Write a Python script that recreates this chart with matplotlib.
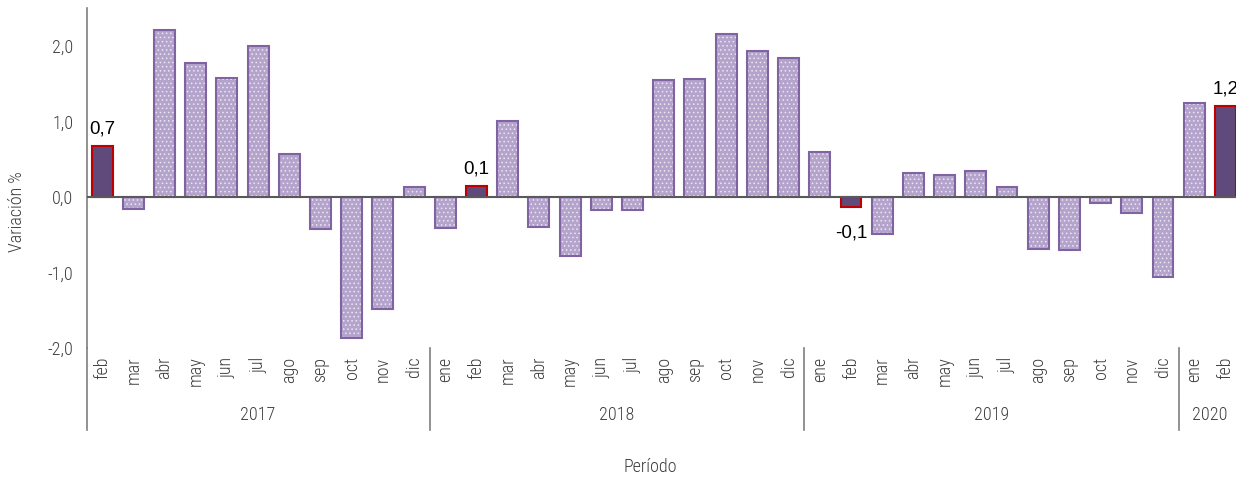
import matplotlib
matplotlib.use('Agg')
import matplotlib.pyplot as plt
import numpy as np

# monthly variation (%) feb 2017 - feb 2020
months = ['feb', 'mar', 'abr', 'may', 'jun', 'jul', 'ago', 'sep', 'oct', 'nov', 'dic',
          'ene', 'feb', 'mar', 'abr', 'may', 'jun', 'jul', 'ago', 'sep', 'oct', 'nov', 'dic',
          'ene', 'feb', 'mar', 'abr', 'may', 'jun', 'jul', 'ago', 'sep', 'oct', 'nov', 'dic',
          'ene', 'feb']
values = [0.68, -0.16, 2.21, 1.77, 1.58, 2.00, 0.57, -0.42, -1.87, -1.48, 0.13,
          -0.41, 0.14, 1.00, -0.40, -0.78, -0.17, -0.17, 1.55, 1.56, 2.16, 1.93, 1.84,
          0.60, -0.14, -0.49, 0.32, 0.29, 0.34, 0.13, -0.69, -0.70, -0.08, -0.21, -1.06,
          1.24, 1.20]
years = ['2017', '2018', '2019', '2020']
year_counts = [11, 12, 12, 2]
highlight = [0, 12, 24, 36]
highlight_labels = ['0,7', '0,1', '-0,1', '1,2']

FONT = ['Roboto Condensed', 'Liberation Sans Narrow', 'Liberation Sans', 'DejaVu Sans']
GREY = '#3f3f3f'
W = 'light'

plt.rcParams['hatch.linewidth'] = 0.6

fig = plt.figure(figsize=(12.36, 4.79), dpi=100)
ax = fig.add_axes([86.5 / 1236, 1 - 348 / 479, (1241 - 86.5) / 1236, 340 / 479])

x = np.arange(len(values))
fill = ['#604a7b' if i in highlight else '#b4a4cc' for i in x]
edge = ['#c00000' if i in highlight else '#8064a2' for i in x]

ax.bar(x, values, width=0.67, color=fill, linewidth=0, zorder=2)
light = [i for i in x if i not in highlight]
ax.bar(light, [values[i] for i in light], width=0.67, facecolor='none',
       edgecolor='#ece6f4', hatch='....', linewidth=0, zorder=3)
ax.bar(x, values, width=0.67, fill=False, edgecolor=edge, linewidth=1.5, zorder=4)

ax.axhline(0, color='#595959', linewidth=1.5, zorder=5)

ax.set_xlim(-0.5, 36.5)
ax.set_ylim(-2.0, 2.5)
ax.set_yticks([-2, -1, 0, 1, 2])
ax.set_yticklabels([f'{v:.1f}'.replace('.', ',') for v in [-2, -1, 0, 1, 2]],
                   fontsize=13, color=GREY, family=FONT, weight=W)
ax.tick_params(axis='y', length=0, pad=9.5)
ax.set_xticks([])
for s in ['top', 'right', 'bottom']:
    ax.spines[s].set_visible(False)
ax.spines['left'].set_color('#7f7f7f')
ax.spines['left'].set_linewidth(1.2)

# data labels on highlighted bars
for i, lab in zip(highlight, highlight_labels):
    v = values[i]
    if v >= 0:
        ax.text(i, v + 0.11, lab, ha='center', va='bottom', fontsize=13.5,
                family='Liberation Sans', color='black', zorder=6)
    else:
        ax.text(i, v - 0.23, lab, ha='center', va='top', fontsize=13.5,
                family='Liberation Sans', color='black', zorder=6)

# category axis: months, years, separators
trans = ax.get_xaxis_transform()
for i, m in enumerate(months):
    ax.text(i, -0.025, m, rotation=90, ha='center', va='top', fontsize=13,
            color=GREY, family=FONT, weight=W, transform=trans, clip_on=False)

sep_bottom = -(430 - 348) / 340
ax.plot([-0.5, -0.5], [0, sep_bottom], color='#7f7f7f', linewidth=1.2,
        transform=trans, clip_on=False)
start = 0
for yr, n in zip(years, year_counts):
    end = start + n
    ax.text((start + end - 1) / 2, -(415 - 348) / 340, yr, ha='center', va='center',
            fontsize=13, color=GREY, family=FONT, weight=W, transform=trans,
            clip_on=False)
    if end < len(values):
        ax.plot([end - 0.5, end - 0.5], [0, sep_bottom], color='#7f7f7f',
                linewidth=1.2, transform=trans, clip_on=False)
    start = end

fig.text(650 / 1236, 1 - 467 / 479, 'Período', ha='center', va='center',
         fontsize=13, color=GREY, family=FONT, weight=W)
fig.text(17 / 1236, 1 - 212 / 479, 'Variación %', rotation=90, ha='center',
         va='center', fontsize=13, color=GREY, family=FONT, weight=W)

fig.savefig('out.png', dpi=100)
